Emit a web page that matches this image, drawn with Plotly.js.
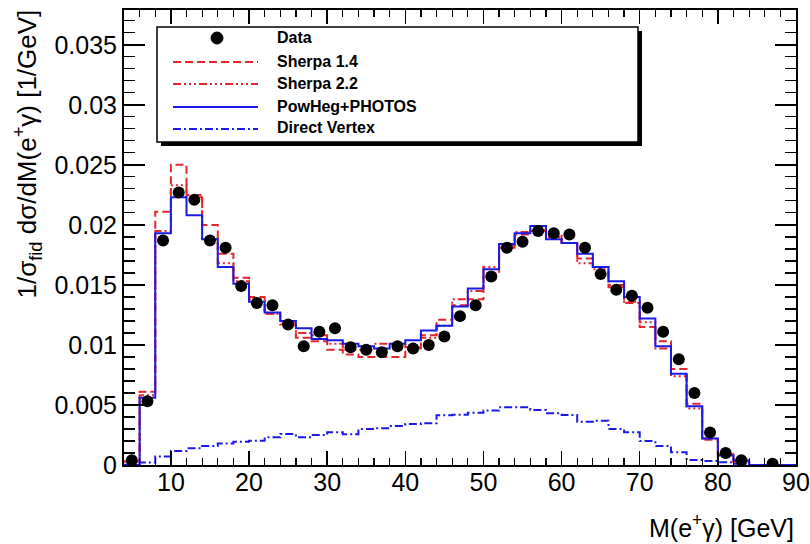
<!DOCTYPE html>
<html>
<head>
<meta charset="utf-8">
<script src="https://cdn.plot.ly/plotly-3.0.1.min.js"></script>
<style>html,body{margin:0;padding:0;background:#fff;}#chart{width:810px;height:544px;}</style>
</head>
<body>
<div id="chart"></div>
<script>
// ---- data ----
const binEdges = [4,6,8,10,12,14,16,18,20,22,24,26,28,30,32,34,36,38,40,42,44,46,48,50,52,54,56,58,60,62,64,66,68,70,72,74,76,78,80,82,84,90];
const dataX = [5,7,9,11,13,15,17,19,21,23,25,27,29,31,33,35,37,39,41,43,45,47,49,51,53,55,57,59,61,63,65,67,69,71,73,75,77,79,81,83,87];
const dataY = [0.0004,0.0053,0.0187,0.0227,0.0221,0.0187,0.0181,0.0149,0.0135,0.0133,0.0117,0.0099,0.0111,0.0114,0.0098,0.0096,0.0094,0.0099,0.0097,0.0100,0.0107,0.0124,0.0133,0.0157,0.0181,0.0186,0.0195,0.0193,0.0192,0.0181,0.0159,0.0146,0.0141,0.0131,0.0111,0.0088,0.0060,0.0027,0.0010,0.0004,0.0001];
const sherpa14 = [0.0003,0.0061,0.0211,0.0250,0.0225,0.0200,0.0176,0.0156,0.0140,0.0126,0.0117,0.0106,0.0103,0.0096,0.0092,0.0090,0.0090,0.0090,0.0097,0.0108,0.0121,0.0133,0.0138,0.0159,0.0181,0.0192,0.0195,0.0192,0.0185,0.0172,0.0165,0.0148,0.0135,0.0115,0.0103,0.0080,0.0051,0.0021,0.0009,0.0003,0];
const sherpa22 = [0.0003,0.0058,0.0195,0.0233,0.0223,0.0188,0.0168,0.0153,0.0138,0.0126,0.0118,0.0110,0.0108,0.0101,0.0096,0.0096,0.0101,0.0101,0.0098,0.0106,0.0116,0.0138,0.0145,0.0165,0.0183,0.0194,0.0196,0.0190,0.0185,0.0168,0.0163,0.0150,0.0136,0.0119,0.0097,0.0074,0.0047,0.0022,0.0009,0.0003,0];
const powheg = [0.0000,0.0056,0.0193,0.0223,0.0208,0.0188,0.0165,0.0151,0.0136,0.0127,0.0120,0.0114,0.0105,0.0104,0.0101,0.0099,0.0097,0.0101,0.0104,0.0112,0.0116,0.0132,0.0147,0.0163,0.0184,0.0193,0.0199,0.0188,0.0185,0.0176,0.0165,0.0153,0.0140,0.0122,0.0099,0.0076,0.0049,0.0022,0.0008,0.0004,0];
const directVertex = [0.00002,0.0002,0.0007,0.00117,0.00139,0.00158,0.0018,0.00194,0.00203,0.00231,0.00258,0.00231,0.0025,0.00272,0.00256,0.003,0.00306,0.00325,0.00342,0.00347,0.00414,0.00419,0.00436,0.00453,0.00481,0.00481,0.00458,0.00431,0.00417,0.00361,0.00369,0.003,0.00272,0.002,0.00158,0.00106,0.00042,0.00033,0.00022,0.0001,0];
const seriesNames = ["Data","Sherpa 1.4","Sherpa 2.2","PowHeg+PHOTOS","Direct Vertex"];
const xTitle = "M(e<sup>+</sup>γ) [GeV]";
const yTitle = "1/σ<sub>fid</sub> dσ/dM(e<sup>+</sup>γ) [1/GeV]";

// ---- styling ----
const RED = "#e4262c", BLUE = "#1a1ae6";
const DASH14 = "8px,4px";
const DASH22 = "8px,3px,2px,3px,2px,3px,2px,3px";
const DASHDV = "8px,3px,2px,3px";
const FONT = "Liberation Sans, Arial, Helvetica, sans-serif";

function step(vals){ return {x: binEdges, y: vals.concat([vals[vals.length-1]])}; }

const traces = [];
function histTrace(vals, color, dash, name){
  const s = step(vals);
  traces.push({type:"scatter", mode:"lines", x:s.x, y:s.y, name:name,
    line:{shape:"hv", color:color, width:2, dash:dash}, hoverinfo:"skip", showlegend:false});
}
histTrace(directVertex, BLUE, DASHDV, seriesNames[4]);
histTrace(sherpa14, RED, DASH14, seriesNames[1]);
histTrace(sherpa22, RED, DASH22, seriesNames[2]);
histTrace(powheg, BLUE, "solid", seriesNames[3]);
traces.push({type:"scatter", mode:"markers", x:dataX, y:dataY, name:seriesNames[0],
  marker:{color:"black", size:12, symbol:"circle"}, showlegend:false});

// plot-area pixel geometry
const L=124, R=796, T=10, B=465;
const px = x => (x-L)/(R-L);
const py = y => (B-y)/(B-T);

const shapes = [];
const annotations = [];
// legend box with shadow
shapes.push({type:"rect", xref:"paper", yref:"paper", x0:px(161), x1:px(642), y0:py(146), y1:py(31),
  fillcolor:"black", line:{width:0}, layer:"above"});
shapes.push({type:"rect", xref:"paper", yref:"paper", x0:px(157), x1:px(638), y0:py(142), y1:py(27),
  fillcolor:"white", line:{color:"black", width:1.5}, layer:"above"});
// legend samples
shapes.push({type:"circle", xref:"paper", yref:"paper", x0:px(211), x1:px(223), y0:py(44), y1:py(32),
  fillcolor:"black", line:{color:"black", width:1}, layer:"above"});
const legendLines = [[62, RED, DASH14],[84, RED, DASH22],[107, BLUE, "solid"],[129, BLUE, DASHDV]];
legendLines.forEach(l => shapes.push({type:"line", xref:"paper", yref:"paper",
  x0:px(173), x1:px(258), y0:py(l[0]), y1:py(l[0]), line:{color:l[1], width:2, dash:l[2]}, layer:"above"}));
const legendTextY = [37, 61, 83, 106, 128];
seriesNames.forEach((n,i) => annotations.push({xref:"paper", yref:"paper", x:px(275), y:py(legendTextY[i]),
  xanchor:"left", yanchor:"middle", text:"<b>"+n+"</b>", showarrow:false,
  font:{family:FONT, size:16, color:"black"}}));
// axis titles (ROOT style: aligned to the axis end)
annotations.push({xref:"paper", yref:"paper", x:1, xshift:0, y:py(526), xanchor:"right", yanchor:"middle",
  text:xTitle, showarrow:false, font:{family:FONT, size:25, color:"black"}});
annotations.push({xref:"paper", yref:"paper", x:px(27), y:py(8), xanchor:"center", yanchor:"top",
  text:yTitle, textangle:-90, showarrow:false, font:{family:FONT, size:26, color:"black"}});

const layout = {
  width:810, height:544,
  margin:{l:L, r:810-R, t:T, b:544-B, pad:0},
  paper_bgcolor:"white", plot_bgcolor:"white",
  showlegend:false,
  font:{family:FONT, color:"black"},
  xaxis:{range:[4,90], tick0:0, dtick:10, ticks:"inside", ticklen:14, tickwidth:1.5, tickcolor:"black",
    showline:true, linewidth:2, linecolor:"black", mirror:"ticks", showgrid:false, zeroline:false,
    ticklabelstandoff:-6,
    tickfont:{family:FONT, size:25, color:"black"},
    minor:{tick0:0, dtick:2, ticks:"inside", ticklen:7, tickwidth:1.2, tickcolor:"black", showgrid:false}},
  yaxis:{range:[0,0.0379], tick0:0, dtick:0.005, ticks:"inside", ticklen:21, tickwidth:1.5, tickcolor:"black",
    showline:true, linewidth:2, linecolor:"black", mirror:"ticks", showgrid:false, zeroline:false,
    tickfont:{family:FONT, size:25, color:"black"},
    minor:{tick0:0, dtick:0.001, ticks:"inside", ticklen:11, tickwidth:1.2, tickcolor:"black", showgrid:false}},
  shapes:shapes,
  annotations:annotations
};
Plotly.newPlot("chart", traces, layout, {displayModeBar:false, staticPlot:true});
</script>
</body>
</html>
